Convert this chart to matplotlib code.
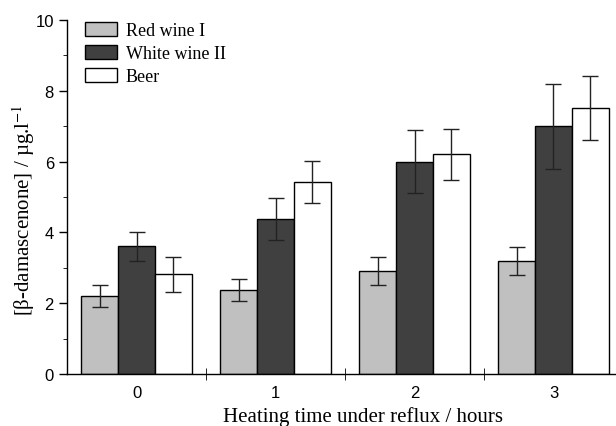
import numpy as np
import matplotlib
matplotlib.use("Agg")
import matplotlib.pyplot as plt
from matplotlib.ticker import MultipleLocator, FixedLocator

hours = [0, 1, 2, 3]
series = ["Red wine I", "White wine II", "Beer"]
red_wine = [2.21, 2.37, 2.90, 3.18]
red_err = [0.31, 0.32, 0.39, 0.40]
white_wine = [3.60, 4.38, 6.00, 7.00]
white_err = [0.40, 0.60, 0.90, 1.20]
beer = [2.81, 5.42, 6.21, 7.52]
beer_err = [0.50, 0.60, 0.72, 0.90]

colors = ["#c0c0c0", "#404040", "#ffffff"]

plt.rcParams['mathtext.fontset'] = 'stix'

fig = plt.figure(figsize=(6.16, 4.27), dpi=100)
ax = fig.add_axes([0.109, 0.122, 0.891, 0.829])

x = np.arange(len(hours))
w = 0.265
values = [red_wine, white_wine, beer]
errors = [red_err, white_err, beer_err]
for i in range(3):
    ax.bar(x + (i - 1) * w, values[i], w, color=colors[i], edgecolor="black",
           linewidth=1.0, label=series[i],
           yerr=errors[i], error_kw=dict(ecolor="#222222", elinewidth=1.0, capsize=6, capthick=1.0))

ax.set_xlim(-0.5, 3.45)
ax.set_ylim(0, 10)
ax.spines['top'].set_visible(False)
ax.spines['right'].set_visible(False)
ax.spines['left'].set_linewidth(1.0)
ax.spines['bottom'].set_linewidth(1.0)

ax.set_xticks(x)
ax.set_xticklabels([str(h) for h in hours], fontfamily="Liberation Sans", fontsize=12)
ax.xaxis.set_minor_locator(FixedLocator([0.5, 1.5, 2.5]))
ax.tick_params(axis='x', which='major', length=0, pad=8)
ax.tick_params(axis='x', which='minor', direction='inout', length=8)

ax.yaxis.set_major_locator(MultipleLocator(2))
ax.yaxis.set_minor_locator(MultipleLocator(1))
ax.tick_params(axis='y', which='major', direction='out', length=6, width=1.0)
ax.tick_params(axis='y', which='minor', direction='out', length=3)
for lab in ax.get_yticklabels():
    lab.set_fontfamily("Liberation Sans")
    lab.set_fontsize(12)

# bottom of this label is clipped in the source figure as well
ax.set_xlabel("Heating time under reflux / hours", fontfamily="Liberation Serif", fontsize=15)
ax.xaxis.set_label_coords(0.539, -0.092)
ax.set_ylabel(r"[β-damascenone] / µg.l$^{-1}$", fontfamily="Liberation Serif", fontsize=15)
ax.yaxis.set_label_coords(-0.055, 0.466)

ax.legend(loc="upper left", bbox_to_anchor=(0.033, 0.994), frameon=False,
          prop={"family": "Liberation Serif", "size": 13},
          borderpad=0, borderaxespad=0,
          handlelength=1.78, handleheight=0.83, handletextpad=0.45, labelspacing=0.3)

fig.savefig("out.png", dpi=100)
